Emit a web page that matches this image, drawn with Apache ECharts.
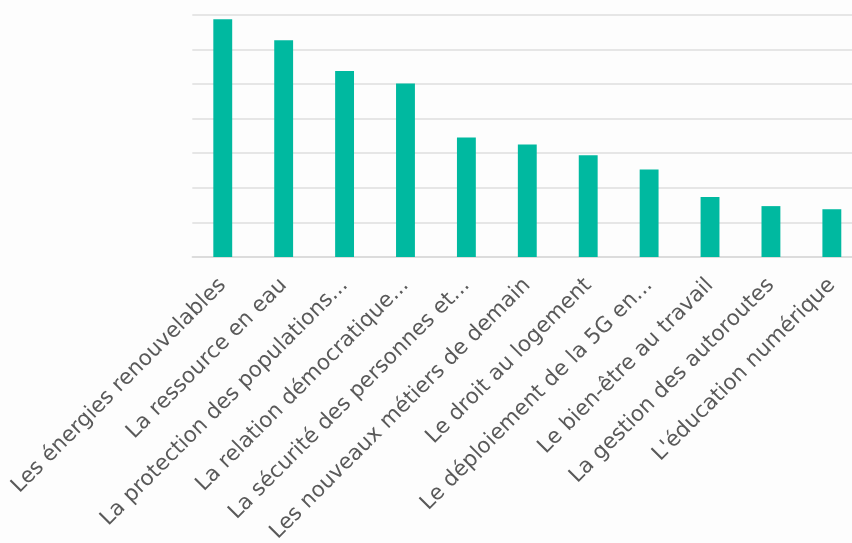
<!DOCTYPE html>
<html>
<head>
<meta charset="utf-8">
<script src="https://cdn.jsdelivr.net/npm/echarts@6/dist/echarts.min.js"></script>
<style>
html,body{margin:0;padding:0;background:#fdfdfd;}
#chart{width:852px;height:543px;}
</style>
</head>
<body>
<div id="chart"></div>
<script>
const categories = [
  "Les énergies renouvelables",
  "La ressource en eau",
  "La protection des populations...",
  "La relation démocratique...",
  "La sécurité des personnes et...",
  "Les nouveaux métiers de demain",
  "Le droit au logement",
  "Le déploiement de la 5G en...",
  "Le bien-être au travail",
  "La gestion des autoroutes",
  "L'éducation numérique"
];
const values = [68.7, 62.6, 53.7, 50.1, 34.5, 32.5, 29.4, 25.3, 17.3, 14.7, 13.8];
const yTicks = [0, 10, 20, 30, 40, 50, 60, 70];

const chart = echarts.init(document.getElementById('chart'));
chart.setOption({
  backgroundColor: '#fdfdfd',
  animation: false,
  grid: { left: 192.3, width: 670, top: 14.7, height: 242.3, containLabel: false, outerBoundsMode: 'none' },
  xAxis: {
    type: 'category',
    data: categories,
    axisTick: { show: false },
    axisLine: { lineStyle: { color: '#d9d9d9', width: 1.5 } },
    axisLabel: {
      interval: 0,
      rotate: 45,
      margin: 25,
      fontSize: 21.5,
      fontFamily: 'DejaVu Sans',
      color: '#595959'
    }
  },
  yAxis: {
    type: 'value',
    min: yTicks[0],
    max: yTicks[yTicks.length - 1],
    interval: yTicks[1] - yTicks[0],
    axisLabel: { show: false },
    axisLine: { show: false },
    axisTick: { show: false },
    splitLine: { lineStyle: { color: '#dedede', width: 1.5 } }
  },
  series: [{
    type: 'bar',
    data: values,
    barWidth: '31%',
    itemStyle: { color: '#00b9a0' }
  }]
});
</script>
</body>
</html>
